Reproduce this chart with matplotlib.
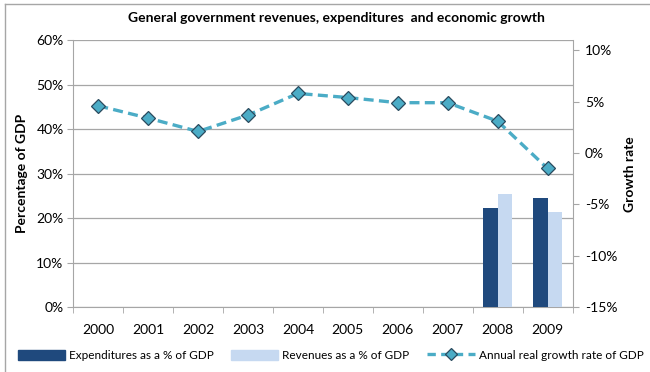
import matplotlib.pyplot as plt
from matplotlib.lines import Line2D
import numpy as np

# Data
years = ['2000', '2001', '2002', '2003', '2004', '2005', '2006', '2007', '2008', '2009']
expenditures = [None, None, None, None, None, None, None, None, 22.2, 24.6]   # % of GDP
revenues = [None, None, None, None, None, None, None, None, 25.5, 21.3]       # % of GDP
growth = [4.6, 3.4, 2.1, 3.7, 5.8, 5.4, 4.9, 4.9, 3.1, -1.5]                   # annual real growth, %

plt.rcParams['font.family'] = ['Lato', 'DejaVu Sans']

dark_blue = '#1F497D'
light_blue = '#C6D9F1'
teal = '#4BACC6'
axis_gray = '#A6A6A6'

fig = plt.figure(figsize=(6.5, 3.72), dpi=100)
ax = fig.add_axes([0.1128, 0.174, 0.768, 0.7185])

x = np.arange(len(years))
w = 0.29
exp_x = [i - w / 2 for i, v in zip(x, expenditures) if v is not None]
exp_v = [v for v in expenditures if v is not None]
rev_x = [i + w / 2 for i, v in zip(x, revenues) if v is not None]
rev_v = [v for v in revenues if v is not None]
ax.bar(exp_x, exp_v, width=w, color=dark_blue, zorder=3)
ax.bar(rev_x, rev_v, width=w, color=light_blue, zorder=3)

ax.set_ylim(0, 60)
ax.set_yticks(range(0, 61, 10))
ax.set_yticklabels([f'{v}%' for v in range(0, 61, 10)])
ax.yaxis.grid(True, color=axis_gray, linewidth=0.9, zorder=0)
ax.set_xlim(-0.5, len(years) - 0.5)
ax.set_xticks(x)
ax.set_xticklabels(years)
ax.set_xticks(np.arange(-0.5, len(years)), minor=True)
ax.tick_params(axis='x', which='major', length=0, pad=12, labelsize=10)
ax.tick_params(axis='x', which='minor', length=4, color=axis_gray, direction='out')
ax.tick_params(axis='y', length=4, color=axis_gray, labelsize=10, pad=3)
for side in ['top', 'right']:
    ax.spines[side].set_visible(False)
for side in ['left', 'bottom']:
    ax.spines[side].set_color(axis_gray)
ax.set_ylabel('Percentage of GDP', fontsize=10, fontweight='bold', labelpad=6)

# Growth rate on secondary axis
ax2 = ax.twinx()
ax2.plot(x, growth, linestyle=(0, (3, 1.6)), color=teal, linewidth=2.4,
         marker='D', markersize=7, markerfacecolor=teal,
         markeredgecolor='#2A4A5E', markeredgewidth=0.9, zorder=4)
ax2.set_ylim(-15, 11)
ax2.set_yticks(range(-15, 11, 5))
ax2.set_yticklabels([f'{v}%' for v in range(-15, 11, 5)])
ax2.tick_params(axis='y', length=4, color=axis_gray, labelsize=10, pad=5)
for side in ['top', 'left', 'bottom']:
    ax2.spines[side].set_visible(False)
ax2.spines['right'].set_color(axis_gray)
ax2.set_ylabel('Growth rate', fontsize=10, fontweight='bold', labelpad=5)

fig.text(0.517, 0.952, 'General government revenues, expenditures  and economic growth',
         ha='center', va='center', fontsize=10, fontweight='bold')

handles = [
    plt.Rectangle((0, 0), 1, 1, color=dark_blue),
    plt.Rectangle((0, 0), 1, 1, color=light_blue),
    Line2D([], [], linestyle=(0, (2.5, 1.6)), color=teal, linewidth=2.4, marker='D',
           markersize=6, markerfacecolor=teal, markeredgecolor='#2A4A5E', markeredgewidth=0.9),
]
labels = ['Expenditures as a % of GDP', 'Revenues as a % of GDP', 'Annual real growth rate of GDP']
fig.legend(handles, labels, loc='center left', bbox_to_anchor=(0.027, 0.045), ncol=3,
           frameon=False, fontsize=8.5, handlelength=4.0, handleheight=1.0,
           handletextpad=0.34, columnspacing=1.5, borderpad=0.0, borderaxespad=0.0)

# Chart frame
fig.add_artist(Line2D([0.008, 0.008], [0, 0.99], transform=fig.transFigure, color=axis_gray, linewidth=1))
fig.add_artist(Line2D([0.008, 1], [0.99, 0.99], transform=fig.transFigure, color=axis_gray, linewidth=1))

fig.savefig('out.png', dpi=100)
